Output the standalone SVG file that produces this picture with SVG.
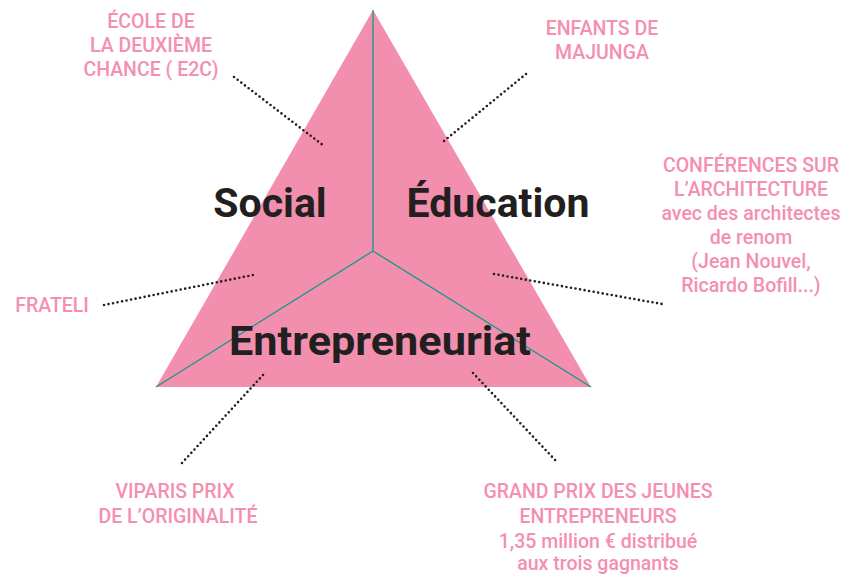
<svg xmlns="http://www.w3.org/2000/svg" width="848" height="574" viewBox="0 0 848 574">
<style>
.lbl{font-family:Roboto,"DejaVu Sans Condensed",sans-serif;font-size:19.5px;font-weight:500;fill:#f48fb0;text-anchor:middle}
.big{font-family:Roboto,"DejaVu Sans",sans-serif;font-size:41px;font-weight:bold;fill:#231f20;text-anchor:middle}
.dot{stroke:#231f20;stroke-width:2.6;stroke-linecap:round;stroke-dasharray:0 4.6;fill:none}
.div{stroke:#13998c;stroke-width:1.3;fill:none}
</style>
<rect width="848" height="574" fill="#ffffff"/>
<g id="triangle">
<polygon points="373,10 156,387 591,387" fill="#f28fae"/>
<line class="div" x1="373" y1="10" x2="373" y2="251"/>
<line class="div" x1="373" y1="251" x2="156" y2="387"/>
<line class="div" x1="373" y1="251" x2="591" y2="387"/>
</g>
<g id="social"><text class="big" x="270" y="217">Social</text></g>
<g id="education"><text class="big" x="498" y="217">Éducation</text></g>
<g id="entrepreneuriat"><text class="big" x="380" y="355" textLength="302" lengthAdjust="spacingAndGlyphs">Entrepreneuriat</text></g>
<g id="connectors">
<line class="dot" x1="234" y1="77" x2="324" y2="146"/>
<line class="dot" x1="526" y1="74" x2="444" y2="141"/>
<line class="dot" x1="494" y1="274" x2="662" y2="304"/>
<line class="dot" x1="104" y1="305" x2="253" y2="275"/>
<line class="dot" x1="263" y1="375" x2="182" y2="463"/>
<line class="dot" x1="473" y1="373" x2="556" y2="461"/>
</g>
<g id="e2c"><text class="lbl" x="151" y="28">ÉCOLE DE</text><text class="lbl" x="151" y="52">LA DEUXIÈME</text><text class="lbl" x="151" y="76">CHANCE ( E2C)</text></g>
<g id="majunga"><text class="lbl" x="602" y="35">ENFANTS DE</text><text class="lbl" x="602" y="59">MAJUNGA</text></g>
<g id="conferences"><text class="lbl" x="751" y="172">CONFÉRENCES SUR</text><text class="lbl" x="751" y="196">L’ARCHITECTURE</text><text class="lbl" x="751" y="220">avec des architectes</text><text class="lbl" x="751" y="244">de renom</text><text class="lbl" x="751" y="268">(Jean Nouvel,</text><text class="lbl" x="751" y="292">Ricardo Bofill...)</text></g>
<g id="frateli"><text class="lbl" x="52" y="312">FRATELI</text></g>
<g id="viparis"><text class="lbl" x="175" y="498">VIPARIS PRIX</text><text class="lbl" x="178" y="523">DE L’ORIGINALITÉ</text></g>
<g id="grandprix"><text class="lbl" x="598" y="498">GRAND PRIX DES JEUNES</text><text class="lbl" x="598" y="523">ENTREPRENEURS</text><text class="lbl" x="598" y="548">1,35 million € distribué</text><text class="lbl" x="598" y="570">aux trois gagnants</text></g>
</svg>
